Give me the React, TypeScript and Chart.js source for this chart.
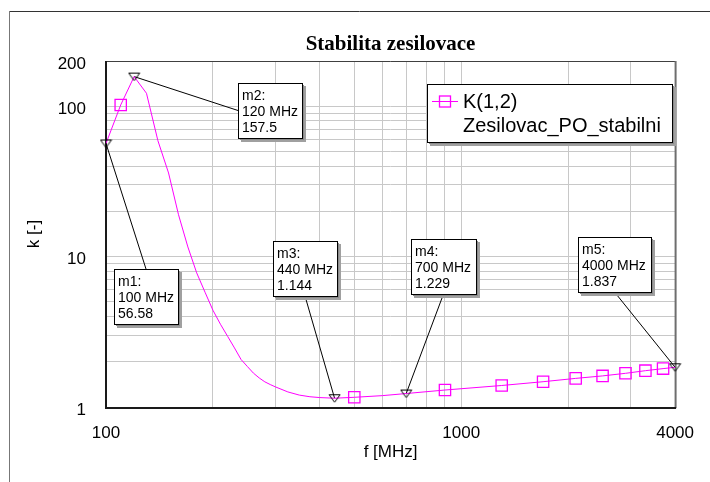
import React, { useEffect, useRef } from 'react';
import { Chart, registerables } from 'chart.js';

Chart.register(...registerables);

// ---- data ----
const freqMHz = [100, 110, 120, 130, 140, 150, 160, 170, 180, 190, 200, 210, 220, 230, 240, 250, 260, 270, 280, 290, 300, 325, 350, 375, 400, 440, 500, 600, 700, 900, 1300, 1700, 2100, 2500, 2900, 3300, 3700, 4000];
const kValues = [56.58, 102, 157.5, 122, 59, 36, 19, 11.6, 7.8, 5.8, 4.4, 3.55, 2.95, 2.47, 2.07, 1.86, 1.68, 1.56, 1.47, 1.41, 1.36, 1.26, 1.2, 1.17, 1.155, 1.144, 1.16, 1.19, 1.229, 1.297, 1.39, 1.473, 1.55, 1.61, 1.675, 1.744, 1.8, 1.837];
const squareMarkerFreqs = [110, 500, 900, 1300, 1700, 2100, 2500, 2900, 3300, 3700];

const markerNames = ['m1', 'm2', 'm3', 'm4', 'm5'];
const markerFreqs = [100, 120, 440, 700, 4000];
const markerValues = [56.58, 157.5, 1.144, 1.229, 1.837];

const xTickValues = [100, 200, 300, 400, 500, 600, 700, 800, 900, 1000, 2000, 3000, 4000];
const xTickLabels = [100, 1000, 4000];
const yTickValues = [1, 2, 3, 4, 5, 6, 7, 8, 9, 10, 20, 30, 40, 50, 60, 70, 80, 90, 100, 200];
const yTickLabels = [1, 10, 100, 200];

const chartTitle = 'Stabilita zesilovace';
const xTitle = 'f [MHz]';
const yTitle = 'k [-]';
const legendLines = ['K(1,2)', 'Zesilovac_PO_stabilni'];

// ---- layout / style ----
const SANS = '"Liberation Sans", Arial, sans-serif';
const SERIF = '"Liberation Serif", "Times New Roman", serif';
const MAGENTA = '#ff00ff';

const markerBoxes = [
  { x: 114, y: 269, w: 64, h: 55, anchor: 'top' },
  { x: 238, y: 83, w: 64, h: 55, anchor: 'left' },
  { x: 273, y: 241, w: 64, h: 55, anchor: 'bottom' },
  { x: 411, y: 239, w: 65, h: 55, anchor: 'bottom' },
  { x: 578, y: 237, w: 73, h: 55, anchor: 'bottom' },
];
const legendBox = { x: 427, y: 84, w: 245, h: 58 };

function makeTriangle(): HTMLCanvasElement {
  const c = document.createElement('canvas');
  c.width = 13;
  c.height = 10;
  const g = c.getContext('2d')!;
  g.strokeStyle = '#000';
  g.lineWidth = 1;
  g.beginPath();
  g.moveTo(1, 1.5);
  g.lineTo(12, 1.5);
  g.lineTo(6.5, 9);
  g.closePath();
  g.stroke();
  return c;
}

function boxWithShadow(ctx: CanvasRenderingContext2D, x: number, y: number, w: number, h: number) {
  ctx.fillStyle = '#a0a0a0';
  ctx.fillRect(x + 3, y + 3, w + 1, h + 1);
  ctx.fillStyle = '#8a8a8a';
  ctx.fillRect(x + 2, y + 2, w, h);
  ctx.fillStyle = '#ffffff';
  ctx.fillRect(x, y, w, h);
  ctx.strokeStyle = '#000';
  ctx.lineWidth = 1;
  ctx.strokeRect(x + 0.5, y + 0.5, w, h);
}

const overlayPlugin = {
  id: 'overlay',
  beforeDraw(chart: any) {
    const ctx: CanvasRenderingContext2D = chart.ctx;
    const area = chart.chartArea;
    ctx.save();
    ctx.fillStyle = '#fff';
    ctx.fillRect(0, 0, chart.width, chart.height);
    // outer frame
    ctx.strokeStyle = '#333';
    ctx.lineWidth = 1;
    ctx.beginPath();
    ctx.moveTo(9, 11.5);
    ctx.lineTo(chart.width, 11.5);
    ctx.stroke();
    ctx.strokeStyle = '#777';
    ctx.beginPath();
    ctx.moveTo(9.5, 11);
    ctx.lineTo(9.5, chart.height);
    ctx.stroke();
    // title
    ctx.fillStyle = '#000';
    ctx.font = `bold 21px ${SERIF}`;
    ctx.textAlign = 'center';
    ctx.textBaseline = 'alphabetic';
    ctx.fillText(chartTitle, (area.left + area.right) / 2, 50);
    // axis titles
    ctx.font = `17px ${SANS}`;
    ctx.fillText(xTitle, (area.left + area.right) / 2, 457);
    ctx.translate(39, (area.top + area.bottom) / 2);
    ctx.rotate(-Math.PI / 2);
    ctx.fillText(yTitle, 0, 0);
    ctx.restore();
  },
  beforeDatasetsDraw(chart: any) {
    const ctx: CanvasRenderingContext2D = chart.ctx;
    const { left, right, top, bottom } = chart.chartArea;
    const xs = chart.scales.x;
    const ys = chart.scales.y;
    ctx.save();
    // plot border
    ctx.lineWidth = 1;
    ctx.strokeStyle = '#404040';
    ctx.beginPath();
    ctx.moveTo(left, top + 0.5);
    ctx.lineTo(right, top + 0.5);
    ctx.stroke();
    ctx.lineWidth = 2;
    ctx.strokeStyle = '#6e6e6e';
    ctx.beginPath();
    ctx.moveTo(right + 0.5, top);
    ctx.lineTo(right + 0.5, bottom + 1);
    ctx.stroke();
    ctx.strokeStyle = '#1a1a1a';
    ctx.beginPath();
    ctx.moveTo(left, top);
    ctx.lineTo(left, bottom + 1);
    ctx.lineTo(right + 1, bottom + 1);
    ctx.stroke();
    // leader lines
    ctx.lineWidth = 1;
    ctx.strokeStyle = '#000';
    markerBoxes.forEach((b, i) => {
      const px = xs.getPixelForValue(markerFreqs[i]);
      const py = ys.getPixelForValue(markerValues[i]);
      let ax = b.x + b.w / 2;
      let ay = b.y;
      if (b.anchor === 'bottom') ay = b.y + b.h;
      if (b.anchor === 'left') { ax = b.x; ay = b.y + b.h / 2; }
      ctx.beginPath();
      ctx.moveTo(px, py);
      ctx.lineTo(ax, ay);
      ctx.stroke();
    });
    ctx.restore();
  },
  afterDatasetsDraw(chart: any) {
    const ctx: CanvasRenderingContext2D = chart.ctx;
    ctx.save();
    // marker boxes
    markerBoxes.forEach((b, i) => {
      boxWithShadow(ctx, b.x, b.y, b.w, b.h);
      ctx.fillStyle = '#000';
      ctx.font = `14px ${SANS}`;
      ctx.textAlign = 'left';
      ctx.textBaseline = 'alphabetic';
      const lines = [`${markerNames[i]}:`, `${markerFreqs[i]} MHz`, `${markerValues[i]}`];
      lines.forEach((t, j) => ctx.fillText(t, b.x + 4, b.y + 16.5 + j * 16));
    });
    // legend
    const L = legendBox;
    boxWithShadow(ctx, L.x, L.y, L.w, L.h);
    ctx.strokeStyle = MAGENTA;
    ctx.lineWidth = 1;
    ctx.beginPath();
    ctx.moveTo(L.x + 5, L.y + 17.5);
    ctx.lineTo(L.x + 31, L.y + 17.5);
    ctx.stroke();
    ctx.lineWidth = 1.3;
    ctx.strokeRect(L.x + 12.5, L.y + 12, 11, 11);
    ctx.fillStyle = '#000';
    ctx.font = `20px ${SANS}`;
    ctx.textAlign = 'left';
    ctx.fillText(legendLines[0], L.x + 36, L.y + 24);
    ctx.fillText(legendLines[1], L.x + 36, L.y + 48);
    ctx.restore();
  },
};

export default function App() {
  const canvasRef = useRef<HTMLCanvasElement | null>(null);

  useEffect(() => {
    const canvas = canvasRef.current;
    if (!canvas) return;
    const tri = makeTriangle();
    const curve = freqMHz.map((f, i) => ({ x: f, y: kValues[i] }));
    const markers = markerFreqs.map((f, i) => ({ x: f, y: markerValues[i] }));

    const chart = new Chart(canvas, {
      type: 'line',
      data: {
        datasets: [
          {
            data: markers,
            showLine: false,
            pointStyle: tri as any,
            pointRadius: 6,
            clip: false as any,
            order: 0,
          },
          {
            data: curve,
            borderColor: MAGENTA,
            borderWidth: 1,
            tension: 0,
            fill: false,
            pointStyle: 'rect',
            pointRadius: (c: any) => (squareMarkerFreqs.includes(freqMHz[c.dataIndex]) ? 8 : 0),
            pointBorderColor: MAGENTA,
            pointBackgroundColor: 'rgba(0,0,0,0)',
            pointBorderWidth: 1.3,
            order: 1,
          },
        ],
      },
      options: {
        responsive: false,
        devicePixelRatio: 1,
        animation: false,
        events: [],
        layout: { padding: { left: 0, top: 61, right: 33, bottom: 0 } },
        plugins: {
          legend: { display: false },
          title: { display: false },
          tooltip: { enabled: false },
        },
        scales: {
          x: {
            type: 'logarithmic',
            min: 100,
            max: 4000,
            afterBuildTicks: (s: any) => {
              s.ticks = xTickValues.map((v) => ({ value: v }));
            },
            afterFit: (s: any) => {
              s.height = 75;
            },
            grid: { color: '#c8c8c8', lineWidth: 1, drawTicks: false },
            border: { display: false },
            ticks: {
              autoSkip: false,
              maxRotation: 0,
              padding: 16,
              color: '#000',
              font: { family: SANS, size: 17 },
              callback: (v: any) => (xTickLabels.includes(Number(v)) ? String(v) : ''),
            },
          },
          y: {
            type: 'logarithmic',
            min: 1,
            max: 200,
            afterBuildTicks: (s: any) => {
              s.ticks = yTickValues.map((v) => ({ value: v }));
            },
            afterFit: (s: any) => {
              s.width = 106;
            },
            grid: { color: '#c8c8c8', lineWidth: 1, drawTicks: false },
            border: { display: false },
            ticks: {
              autoSkip: false,
              padding: 20,
              labelOffset: 3,
              color: '#000',
              font: { family: SANS, size: 17 },
              callback: (v: any) => (yTickLabels.includes(Number(v)) ? String(v) : ''),
            },
          },
        },
      } as any,
      plugins: [overlayPlugin],
    });
    return () => chart.destroy();
  }, []);

  return (
    <div style={{ position: 'fixed', left: 0, top: 0, width: 710, height: 482, background: '#fff' }}>
      <canvas ref={canvasRef} width={710} height={482} style={{ display: 'block', width: 710, height: 482 }} />
    </div>
  );
}
